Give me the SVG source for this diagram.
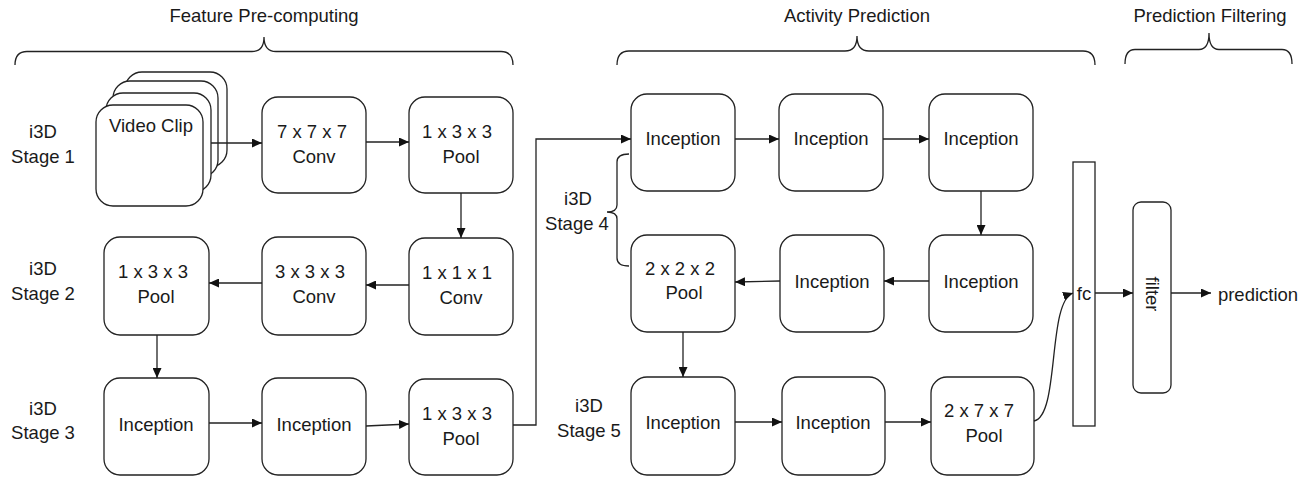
<svg xmlns="http://www.w3.org/2000/svg" width="1314" height="477" viewBox="0 0 1314 477">
<style>
text{font-family:"Liberation Sans",Arial,sans-serif;font-size:18.5px;fill:#1a1a1a;text-anchor:middle}
.h{font-size:18.5px}
.box{fill:#fff;stroke:#222;stroke-width:1.3}
.ln{fill:none;stroke:#222;stroke-width:1.3}
.c{fill:none;stroke:#222;stroke-width:1.3;marker-end:url(#arr)}
</style>
<defs>
<marker id="arr" markerWidth="10" markerHeight="9" refX="10" refY="4.5" orient="auto" markerUnits="userSpaceOnUse"><path d="M0,0 L10,4.5 L0,9 z" fill="#111"/></marker>
</defs>
<rect width="1314" height="477" fill="#fff"/>

<g id="headers">
<text class="h" x="264" y="22">Feature Pre-computing</text>
<path class="ln" d="M15,65 Q15,51.5 27,51.5 L252,51.5 Q264,51.5 264,37 Q264,51.5 276,51.5 L501,51.5 Q513,51.5 513,65"/>
<text class="h" x="857" y="22">Activity Prediction</text>
<path class="ln" d="M617,65 Q617,51 629,51 L845,51 Q857,51 857,36 Q857,51 869,51 L1083,51 Q1095,51 1095,65"/>
<text class="h" x="1210" y="22">Prediction Filtering</text>
<path class="ln" d="M1125,64 Q1125,49.5 1135,49.5 L1199,49.5 Q1209,49.5 1209,33 Q1209,49.5 1219,49.5 L1282,49.5 Q1292,49.5 1292,64"/>
</g>

<g id="stage-labels">
<text x="43" y="138">i3D</text><text x="43" y="163">Stage 1</text>
<text x="43" y="275">i3D</text><text x="43" y="300">Stage 2</text>
<text x="43" y="415">i3D</text><text x="43" y="439">Stage 3</text>
<text x="578" y="205">i3D</text><text x="577" y="230">Stage 4</text>
<text x="589" y="412">i3D</text><text x="589" y="437">Stage 5</text>
<path class="ln" d="M629,154 Q617,154 617,162 L617,205 Q617,212 607,212 Q617,212 617,219 L617,258 Q617,266 629,266"/>
</g>

<g id="video-clip">
<rect class="box" x="125" y="72" width="102" height="95" rx="17"/>
<rect class="box" x="113" y="81" width="105" height="96" rx="17"/>
<rect class="box" x="106" y="93" width="105" height="99" rx="17"/>
<rect class="box" x="96" y="105" width="107" height="101" rx="17"/>
<text x="151" y="132">Video Clip</text>
</g>

<g id="conv777"><rect class="box" x="262" y="97" width="104" height="96" rx="16"/><text x="312" y="137.5">7 x 7 x 7</text><text x="314" y="162.5">Conv</text></g>
<g id="pool133a"><rect class="box" x="409" y="97" width="104" height="96" rx="16"/><text x="457" y="137.5">1 x 3 x 3</text><text x="461" y="162.5">Pool</text></g>
<g id="conv111"><rect class="box" x="409" y="238" width="104" height="97" rx="16"/><text x="457" y="279">1 x 1 x 1</text><text x="461" y="304">Conv</text></g>
<g id="conv333"><rect class="box" x="262" y="237" width="104" height="98" rx="16"/><text x="310" y="278">3 x 3 x 3</text><text x="314" y="303">Conv</text></g>
<g id="pool133b"><rect class="box" x="104" y="237" width="105" height="98" rx="16"/><text x="153" y="278">1 x 3 x 3</text><text x="156" y="303">Pool</text></g>
<g id="inc3a"><rect class="box" x="104" y="378" width="105" height="97" rx="16"/><text x="156" y="431">Inception</text></g>
<g id="inc3b"><rect class="box" x="262" y="378" width="104" height="97" rx="16"/><text x="314" y="431">Inception</text></g>
<g id="pool133c"><rect class="box" x="409" y="379" width="104" height="96" rx="16"/><text x="457" y="420">1 x 3 x 3</text><text x="461" y="445">Pool</text></g>

<g id="inc4a"><rect class="box" x="631" y="94" width="104" height="97" rx="16"/><text x="683" y="145">Inception</text></g>
<g id="inc4b"><rect class="box" x="779" y="94" width="104" height="97" rx="16"/><text x="831" y="145">Inception</text></g>
<g id="inc4c"><rect class="box" x="929" y="94" width="104" height="97" rx="16"/><text x="981" y="145">Inception</text></g>
<g id="inc4d"><rect class="box" x="929" y="235" width="104" height="97" rx="16"/><text x="981" y="288">Inception</text></g>
<g id="inc4e"><rect class="box" x="780" y="235" width="104" height="97" rx="16"/><text x="832" y="288">Inception</text></g>
<g id="pool222"><rect class="box" x="631" y="235" width="104" height="97" rx="16"/><text x="680" y="274.5">2 x 2 x 2</text><text x="684" y="299">Pool</text></g>
<g id="inc5a"><rect class="box" x="631" y="377" width="104" height="98" rx="16"/><text x="683" y="429">Inception</text></g>
<g id="inc5b"><rect class="box" x="782" y="377" width="103" height="98" rx="16"/><text x="833" y="429">Inception</text></g>
<g id="pool277"><rect class="box" x="931" y="377" width="103" height="98" rx="16"/><text x="979" y="417">2 x 7 x 7</text><text x="984" y="442">Pool</text></g>

<g id="fc"><rect class="box" x="1073" y="162" width="22" height="264"/><text x="1084" y="300">fc</text></g>
<g id="filter"><rect class="box" x="1133" y="202" width="38" height="191" rx="8"/><text transform="translate(1145.5,294) rotate(90)" x="0" y="0">filter</text></g>
<g id="prediction"><text x="1258" y="301" style="text-anchor:middle">prediction</text></g>

<g id="connectors">
<path class="c" d="M211,143 H262"/>
<path class="c" d="M366,142 H409"/>
<path class="c" d="M461,193 V238"/>
<path class="c" d="M409,285 H366"/>
<path class="c" d="M262,283 H209"/>
<path class="c" d="M157,335 V378"/>
<path class="c" d="M209,423 H262"/>
<path class="c" d="M366,426 L409,424"/>
<path class="c" d="M513,425 H536 V139 H631"/>
<path class="c" d="M735,139 H779"/>
<path class="c" d="M883,139 H929"/>
<path class="c" d="M981,191 V235"/>
<path class="c" d="M929,281 H884"/>
<path class="c" d="M780,281 L735,282"/>
<path class="c" d="M683,332 V377"/>
<path class="c" d="M735,422 H782"/>
<path class="c" d="M885,422 H931"/>
<path class="c" d="M1034,421 C1060,416 1047,302 1073,293"/>
<path class="c" d="M1095,293 H1133"/>
<path class="c" d="M1171,293 H1211"/>
</g>
</svg>
